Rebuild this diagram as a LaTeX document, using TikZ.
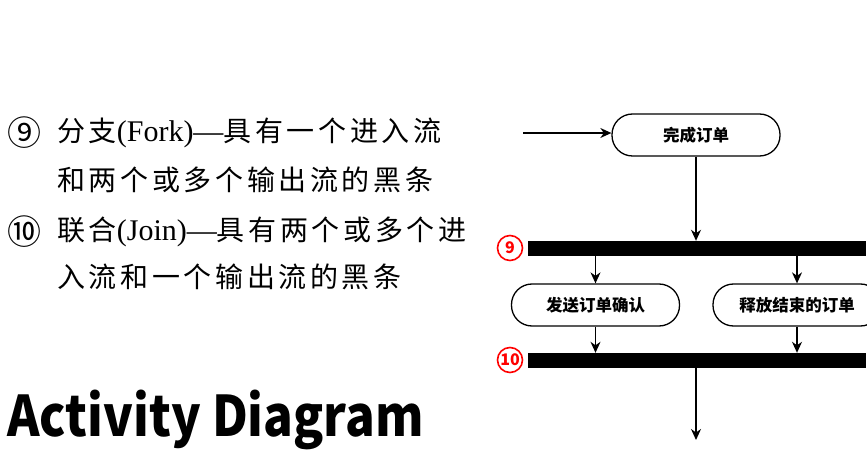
\documentclass[tikz,border=0pt]{standalone}
\usepackage{fontspec}
\setmainfont{Liberation Serif}
\newfontfamily\cjk{Noto Sans CJK SC}
\newfontfamily\cjks{Noto Sans CJK SC}[LetterSpace=13]
\newfontfamily\cjkn{Noto Sans CJK SC}[FakeStretch=0.88]
\newfontfamily\serifs{Liberation Serif}[LetterSpace=0]
\usetikzlibrary{arrows.meta}
\tikzset{
  act/.style={draw, line width=1.3pt, rounded corners=20.5pt, minimum width=168pt, minimum height=42pt, inner sep=0pt, font=\cjk\bfseries\fontsize{16.5}{18}\selectfont},
  bar/.style={fill=black, draw=none, minimum width=338pt, minimum height=15pt, inner sep=0pt},
  flow/.style={line width=1.3pt, -{Stealth[length=11pt,width=10pt,inset=3.5pt]}},
  redmark/.style={circle, draw=red, line width=1.6pt, minimum size=25pt, inner sep=0pt, text=red, font=\cjk\bfseries\fontsize{16}{16}\selectfont},
  txt/.style={anchor=west, inner sep=0pt, font=\cjks\fontsize{28}{30}\selectfont},
  num/.style={inner sep=0pt, font=\cjk\fontsize{34}{34}\selectfont}
}
\begin{document}
\begin{tikzpicture}[x=1pt,y=-1pt]
\useasboundingbox (0,0) rectangle (867,470);
% left text
\node[num] (n9) at (25,133) {⑨};
\node[txt] (l1) at (57,133) {分支{\serifs\fontsize{30}{30}\selectfont (Fork)—}具有一个进入流};
\node[txt] (l2) at (57,180) {和两个或多个输出流的黑条};
\node[num] (n10) at (25,232) {⑩};
\node[txt] (l3) at (57,232) {联合{\serifs\fontsize{30}{30}\selectfont (Join)—}具有两个或多个进};
\node[txt] (l4) at (57,277) {入流和一个输出流的黑条};
\node[anchor=west, inner sep=0pt, font=\cjkn\bfseries\fontsize{56}{60}\selectfont] (title) at (7,420) {Activity Diagram};
% diagram
\coordinate (start) at (523,133);
\node[act] (a1) at (696,135) {完成订单};
\node[bar] (fork) at (697,248.5) {};
\node[act] (a2) at (595.5,305) {发送订单确认};
\node[act] (a3) at (797,305) {释放结束的订单};
\node[bar] (join) at (697,360.5) {};
\coordinate (end) at (696,440);
\node[redmark] (m9) at (510,248) {9};
\node[redmark] (m10) at (510,360) {10};
\draw[flow] (start) -- (a1.west |- start);
\draw[flow] (a1.south) -- (a1.south |- fork.north);
\draw[flow] (a2.north |- fork.south) -- (a2.north);
\draw[flow] (a3.north |- fork.south) -- (a3.north);
\draw[flow] (a2.south) -- (a2.south |- join.north);
\draw[flow] (a3.south) -- (a3.south |- join.north);
\draw[flow] (a1.south |- join.south) -- (end);
\end{tikzpicture}
\end{document}
